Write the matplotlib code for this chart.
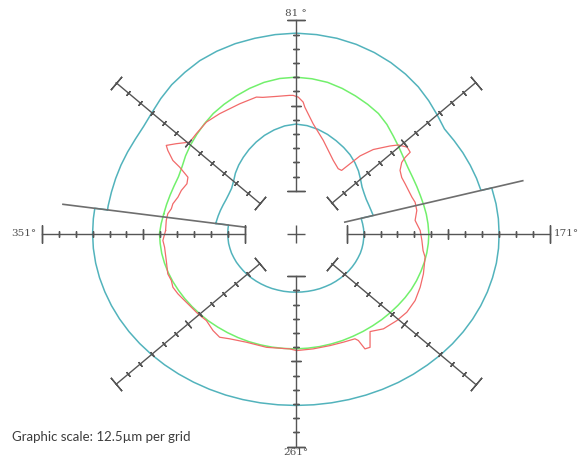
import numpy as np
import matplotlib.pyplot as plt

# Roundness/profile plot. Radii are in grid units (1 grid = 12.5 um),
# angles are instrument angles: 171 deg points right, angles run clockwise.
ZERO_DIR = 171

# nominal profile (green)
nominal_angles = list(range(1, 360, 5))
nominal_r = [7.92, 7.90, 7.90, 7.93, 8.00, 8.20, 8.50, 8.80, 9.10, 9.42,
             9.75, 10.03, 10.30, 10.57, 10.80, 10.95, 11.00, 10.93, 10.80, 10.57,
             10.30, 10.03, 9.75, 9.37, 8.95, 8.60, 8.30, 8.08, 7.95, 7.87,
             7.82, 7.81, 7.82, 7.83, 7.85, 7.85, 7.85, 7.85, 7.85, 7.86,
             7.87, 7.87, 7.87, 7.88, 7.90, 7.92, 7.95, 7.98, 8.02, 8.05,
             8.08, 8.10, 8.12, 8.12, 8.12, 8.11, 8.10, 8.08, 8.06, 8.04,
             8.03, 8.01, 8.00, 8.00, 8.00, 8.01, 8.02, 8.03, 8.04, 8.04,
             8.05, 7.98]

# tolerance band (cyan): lobe sector between the two cut lines, base sector elsewhere
lobe_angles = [-0.5] + list(range(1, 155, 5)) + [155.5]
outer_lobe_r = [11.24, 11.25, 11.27, 11.32, 11.39, 11.47, 11.57, 11.73, 12.02, 12.40,
                12.78, 13.10, 13.42, 13.65, 13.83, 13.95, 14.05, 14.10, 14.05, 13.95,
                13.78, 13.55, 13.27, 12.95, 12.60, 12.20, 11.80, 11.45, 11.40, 11.38,
                11.36, 11.35, 11.34]
inner_lobe_r = [4.78, 4.77, 4.75, 4.74, 4.74, 4.76, 4.83, 4.95, 5.20, 5.55,
                5.88, 6.20, 6.53, 6.85, 7.15, 7.40, 7.60, 7.70, 7.62, 7.45,
                7.22, 6.95, 6.68, 6.40, 6.08, 5.75, 5.40, 5.10, 4.92, 4.80,
                4.75, 4.73, 4.74]

base_angles = [155.5] + list(range(161, 360, 5)) + [359.5]
outer_base_r = [12.00, 12.00, 12.00, 12.00, 12.01, 12.02, 12.02, 12.03, 12.04, 12.05,
                12.06, 12.07, 12.08, 12.08, 12.09, 12.10, 12.10, 12.10, 12.10, 12.10,
                12.10, 12.10, 12.10, 12.10, 12.10, 12.10, 12.09, 12.08, 12.07, 12.06,
                12.05, 12.04, 12.03, 12.02, 12.01, 12.00, 12.00, 12.00, 12.00, 12.00,
                12.00, 12.00]
inner_base_r = [4.00, 4.00, 4.01, 4.02, 4.02, 4.03, 4.04, 4.05, 4.05, 4.06,
                4.07, 4.08, 4.09, 4.10, 4.11, 4.12, 4.12, 4.13, 4.13, 4.13,
                4.13, 4.13, 4.13, 4.13, 4.12, 4.12, 4.11, 4.10, 4.09, 4.08,
                4.07, 4.06, 4.05, 4.05, 4.04, 4.04, 4.03, 4.03, 4.02, 4.02,
                4.02, 4.02]

# measured trace (red), x/y in grid units
measured_x = [-7.69, -7.65, -7.56, -7.35, -7.26, -6.96, -6.76, -6.43, -6.37, -6.86,
              -7.26, -7.56, -7.65, -7.06, -6.27, -5.88, -5.28, -4.50, -3.31, -2.33,
              -1.95, -1.12, -0.38, -0.16, 0.14, 0.43, 0.53, 1.02, 1.62, 2.21,
              2.50, 2.70, 3.20, 3.79, 4.57, 5.56, 6.05, 6.57, 6.75, 6.45,
              6.25, 6.15, 6.25, 6.45, 6.65, 6.85, 7.04, 7.14, 7.04, 7.14,
              7.34, 7.44, 7.51, 7.63, 7.53, 7.34, 7.04, 6.55, 5.96, 5.17,
              4.38, 4.38, 4.08, 3.69, 3.49, 2.80, 2.01, 1.02, 0.04, -0.36,
              -1.73, -2.92, -3.91, -4.50, -4.89, -5.28, -5.78, -6.27, -6.67, -6.96,
              -7.26, -7.35, -7.56, -7.65, -7.75, -7.85]
measured_y = [0.21, 0.92, 1.39, 1.74, 2.09, 2.56, 3.03, 3.50, 3.96, 4.67,
              5.14, 5.85, 6.20, 6.32, 6.43, 7.02, 7.84, 8.43, 9.13, 9.60,
              9.58, 9.65, 9.72, 9.72, 9.60, 9.25, 8.89, 7.72, 6.55, 5.14,
              4.56, 4.44, 4.91, 5.46, 5.91, 6.16, 6.23, 6.08, 5.72, 5.35,
              5.00, 4.44, 3.94, 3.50, 3.03, 2.56, 2.20, 1.62, 0.92, 0.68,
              0.21, -0.49, -1.20, -1.67, -2.84, -3.78, -4.72, -5.54, -6.13, -6.71,
              -6.90, -8.01, -8.12, -7.53, -7.41, -7.65, -7.89, -8.12, -8.24, -8.12,
              -8.01, -7.65, -7.41, -7.30, -6.83, -6.13, -5.65, -5.07, -4.60, -4.25,
              -3.78, -3.31, -2.84, -1.90, -0.96, -0.49]

# cut lines bounding the lobe sector
cut_angles = [359.5, 155.5]
cut_r = [3.0, 13.9]

axis_labels = ['171°', '81 °', '351°', '261°']
scale_text = 'Graphic scale: 12.5µm per grid'

CYAN = '#52b3bc'
GREEN = '#72f06c'
RED = '#f26a6a'
AXIS = '#555555'
CUT = '#6e6e6e'


def to_xy(angles, radii):
    phi = np.radians(ZERO_DIR - np.asarray(angles, dtype=float))
    r = np.asarray(radii, dtype=float)
    return r * np.cos(phi), r * np.sin(phi)


def closed(x, y):
    return np.append(x, x[0]), np.append(y, y[0])


fig = plt.figure(figsize=(5.8, 4.59), dpi=100)
ax = fig.add_axes([0, 0, 1, 1])
ax.set_xlim(-17.465, 16.774)
ax.set_ylim(-15.869, 16.432)
ax.axis('off')

# tolerance band
for lobe_r, base_r in [(outer_lobe_r, outer_base_r), (inner_lobe_r, inner_base_r)]:
    bx, by = to_xy(lobe_angles + base_angles, lobe_r + base_r)
    ax.plot(*closed(bx, by), color=CYAN, lw=1.1, zorder=2)

# nominal and measured profiles
nx, ny = to_xy(nominal_angles, nominal_r)
ax.plot(*closed(nx, ny), color=GREEN, lw=1.1, zorder=3)
ax.plot(*closed(np.array(measured_x), np.array(measured_y)), color=RED, lw=0.9, zorder=4)

# cut lines
for a in cut_angles:
    cx, cy = to_xy([a, a], cut_r)
    ax.plot(cx, cy, color=CUT, lw=1.2, zorder=5)

# crosshair scales with tick marks every grid unit
fig.canvas.draw()
p0 = ax.transData.transform((0, 0))
p1 = ax.transData.transform((1, 1))
sx, sy = p1 - p0
tick_r = np.arange(3, 16)
for k in range(8):
    psi = np.radians(45 * k)
    ux, uy = np.cos(psi), np.sin(psi)
    rot = np.degrees(np.arctan2(uy * sy, ux * sx))
    ax.plot([3 * ux, 15 * ux], [3 * uy, 15 * uy], color=AXIS, lw=1.0, zorder=6)
    for r in tick_r:
        if r in (3, 15):
            size = 12.5
        elif r == 9:
            size = 7
        else:
            size = 4.2
        ax.plot(r * ux, r * uy, marker=(2, 2, rot), ms=size, mew=1.0,
                mec=AXIS, ls='none', zorder=6)
ax.plot(0, 0, marker='+', ms=13, mew=1.0, color=AXIS, zorder=6)

lab_kw = dict(fontsize=7.5, color='#505050', family='DejaVu Serif', zorder=7)
ax.text(16.72, 0, axis_labels[0], ha='right', va='center', **lab_kw)
ax.text(0, 15.45, axis_labels[1], ha='center', va='center', **lab_kw)
ax.text(-15.3, 0, axis_labels[2], ha='right', va='center', **lab_kw)
ax.text(0, -15.38, axis_labels[3], ha='center', va='center', **lab_kw)

ax.text(-16.76, -14.32, scale_text, ha='left', va='center', fontsize=9.5,
        color='#3c3c3c', family='Lato')

fig.savefig('out.png', dpi=100)
